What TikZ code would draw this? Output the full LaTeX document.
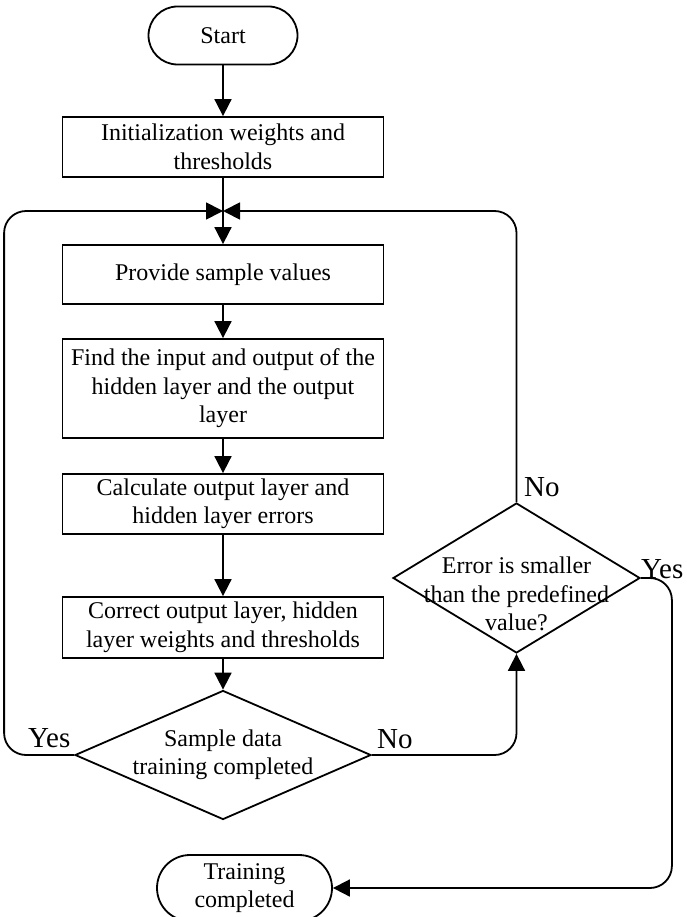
\documentclass[tikz,border=0pt]{standalone}
\usepackage{fontspec}
\setmainfont{Liberation Serif}
\usetikzlibrary{arrows.meta,shapes.geometric,calc}

\tikzset{
  process/.style={draw, line width=1.8pt, minimum width=321pt, minimum height=60pt,
    align=center, inner sep=0pt},
  terminal/.style={draw, line width=1.8pt, rounded corners=29pt, minimum width=149pt,
    minimum height=58pt, align=center, inner sep=0pt},
  decision/.style={draw, diamond, line width=1.8pt, inner sep=0pt},
  flow/.style={line width=1.8pt, -{Triangle[length=17pt,width=17pt]}},
  loopline/.style={flow, rounded corners=22pt},
  yn/.style={font=\fontsize{29}{30}\selectfont, inner sep=0pt, anchor=base west},
}

\begin{document}
\begin{tikzpicture}[x=1pt,y=1pt,font=\fontsize{24}{28.5}\selectfont]

\useasboundingbox (0,0) rectangle (686,-917);

\node[terminal] (start) at (223,-35.5) {Start};
\node[process] (init) at (223,-147) {Initialization weights and\\thresholds};
\coordinate (join) at (223,-211);
\node[process, minimum height=59pt] (provide) at (223,-274.5) {Provide sample values};
\node[process, minimum height=99pt] (find) at (223,-388.5)
  {Find the input and output of the\\hidden layer and the output\\layer};
\node[process] (calc) at (223,-504) {Calculate output layer and\\hidden layer errors};
\node[process, minimum height=61pt] (correct) at (223,-627.5)
  {Correct output layer, hidden\\layer weights and thresholds};

\node[decision, minimum width=296pt, minimum height=129pt] (sample) at (223,-755) {};
\node[align=center] (sampletxt) at (sample.center) {Sample data\\training completed};

\node[decision, minimum width=247pt, minimum height=150pt] (error) at (516.5,-578) {};
\node[align=center] (errortxt) at ($(error.center)+(0,-16)$)
  {Error is smaller\\than the predefined\\value?};

\node[terminal, rounded corners=33pt, minimum width=175pt, minimum height=66pt]
  (endnode) at (244.5,-888) {Training\\completed};

\draw[flow] (start) -- (init);
\draw[flow] (init) -- (provide);
\draw[flow] (provide) -- (find);
\draw[flow] (find) -- (calc);
\draw[flow] (calc) -- (correct);
\draw[flow] (correct) -- (sample);

\draw[loopline] (sample.west) -- ++(-70,0) |- (join);
\draw[loopline] (error.north) |- (join);
\draw[loopline] (sample.east) -| (error.south);
\draw[loopline] (error.east) -- ++(31,0) |- (endnode.east);

\node[yn] (yesleft) at (28,-747) {Yes};
\node[yn] (noright) at (377,-748) {No};
\node[yn] (notop) at (524,-496) {No};
\node[yn] (yesright) at (641,-578) {Yes};

\end{tikzpicture}
\end{document}
